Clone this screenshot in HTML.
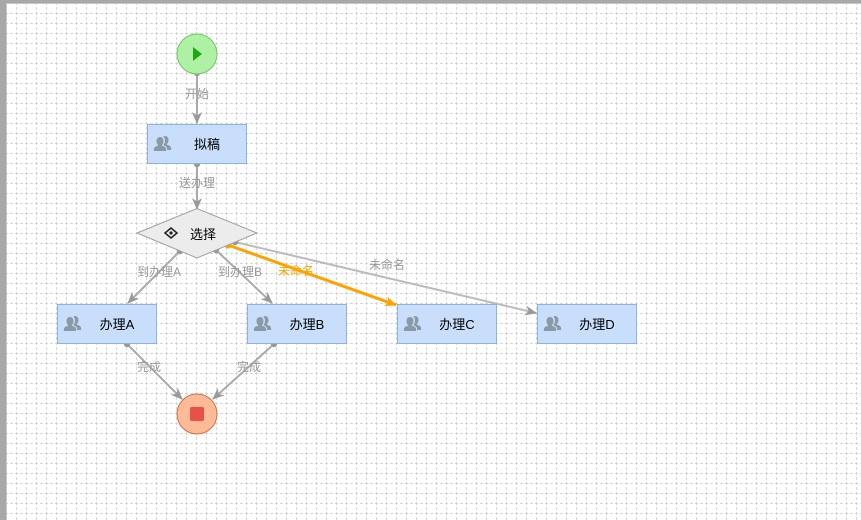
<!DOCTYPE html>
<html><head><meta charset="utf-8"><style>
html,body{margin:0;padding:0;width:861px;height:520px;overflow:hidden;background:#fff}
svg{display:block}
text{font-family:"Liberation Sans","Noto Sans CJK SC",sans-serif}
</style></head><body>
<svg width="861" height="520" viewBox="0 0 861 520" xmlns="http://www.w3.org/2000/svg">
<defs>
<pattern id="g" x="6" y="3" width="10" height="10" patternUnits="userSpaceOnUse">
<line x1="0.5" y1="0" x2="0.5" y2="10" stroke="#d6d6d6" stroke-width="1" stroke-dasharray="3,2" stroke-dashoffset="1"/>
<line x1="0" y1="0.5" x2="10" y2="0.5" stroke="#d6d6d6" stroke-width="1" stroke-dasharray="3,2" stroke-dashoffset="1"/>
</pattern>
<marker id="ag" viewBox="0 0 12 10" refX="11" refY="5" markerWidth="12" markerHeight="10" orient="auto" markerUnits="userSpaceOnUse">
<path d="M0,0 L12,5 L0,10 L3.5,5 z" fill="#999"/>
</marker>
<marker id="ao" viewBox="0 0 12 10" refX="11" refY="5" markerWidth="13" markerHeight="10" orient="auto" markerUnits="userSpaceOnUse">
<path d="M0,0 L12,5 L0,10 L3.5,5 z" fill="#ffa200"/>
</marker>
<g id="p">
<path d="M4,0 c2.5,0 3.5,2 3.5,4.2 c0,2 -1,3.3 -1.6,3.8 l0,0.8 c2.5,0.6 4.2,1.6 4.2,3.6 l0,1.6 l-12.2,0 l0,-1.6 c0,-2 1.7,-3 4.2,-3.6 l0,-0.8 c-0.6,-0.5 -1.6,-1.8 -1.6,-3.8 c0,-2.2 1,-4.2 3.5,-4.2z" fill="#8a9aa4"/>
<path d="M9,-1 c2.5,0 3.5,2 3.5,4.2 c0,2 -1,3.3 -1.6,3.8 l0,0.8 c2.5,0.6 4.2,1.6 4.2,3.6 l0,1.6 l-4,0 l0,-1 c0,-1.6 -1.2,-3 -3.5,-3.6 l0,-0.8 c0.6,-0.5 1.4,-1.8 1.4,-3.8 c0,-2 -0.6,-3.4 -1.8,-4.2z" fill="#8a9aa4"/>
</g>
</defs>
<rect x="0" y="0" width="861" height="520" fill="#fff"/>
<rect x="7" y="4" width="854" height="516" fill="url(#g)"/>
<rect x="0" y="0" width="861" height="4" fill="#a8a8a8"/>
<rect x="0" y="0" width="7" height="520" fill="#a8a8a8"/>
<rect x="6" y="3" width="855" height="1" fill="#c8c8c8"/>
<rect x="6" y="3" width="1" height="517" fill="#c8c8c8"/>

<!-- connectors -->
<g stroke="#aaa" stroke-width="2" fill="none">
<line x1="197" y1="73" x2="197" y2="123" marker-end="url(#ag)"/>
<line x1="197" y1="164" x2="197" y2="209" marker-end="url(#ag)"/>
<line x1="180" y1="251" x2="128" y2="303" marker-end="url(#ag)"/>
<line x1="216" y1="250" x2="272" y2="303" marker-end="url(#ag)"/>
<line x1="235" y1="242" x2="536" y2="313" stroke="#bbb" marker-end="url(#ag)"/>
<line x1="127" y1="344" x2="182" y2="399" marker-end="url(#ag)"/>
<line x1="274" y1="344" x2="213" y2="399" marker-end="url(#ag)"/>
</g>
<line x1="228" y1="245" x2="396" y2="305" stroke="#ffa200" stroke-width="3" marker-end="url(#ao)"/>
<g fill="#999">
<circle cx="197" cy="73" r="3.2"/>
<circle cx="197" cy="164" r="3.2"/>
<circle cx="180" cy="251" r="3.2"/>
<circle cx="216" cy="250" r="3.2"/>
<circle cx="235" cy="242" r="3.2"/>
<circle cx="127" cy="344" r="3.2"/>
<circle cx="274" cy="344" r="3.2"/>
</g>
<circle cx="228" cy="245" r="3.5" fill="#ffa200"/>

<!-- labels -->
<g font-size="12" fill="#999" text-anchor="middle">
<text x="197" y="98">开始</text>
<text x="197" y="187">送办理</text>
<text x="159" y="276">到办理A</text>
<text x="240" y="276">到办理B</text>
<text x="387" y="269">未命名</text>
<text x="149" y="371">完成</text>
<text x="249" y="371">完成</text>
</g>
<text x="296" y="275" font-size="12" fill="#ffa200" text-anchor="middle">未命名</text>

<!-- start -->
<circle cx="197" cy="54" r="20" fill="#aef0a4" stroke="#70c860" stroke-width="1"/>
<path d="M193,47 L202,54 L193,61 z" fill="#1daa10"/>

<!-- 拟稿 -->
<rect x="147.5" y="124.5" width="99" height="39" fill="#c8defa" stroke="#8cb2e6"/>
<use href="#p" x="156" y="137"/>
<text x="207" y="149" font-size="13" fill="#000" text-anchor="middle">拟稿</text>

<!-- diamond -->
<path d="M137,233 L197,208.5 L257,233 L197,258 z" fill="#ececec" stroke="#a0a0a0"/>
<g transform="translate(171,233)" fill="none" stroke="#222" stroke-width="1.5">
<path d="M-6,0 L0,-5 L6,0 L0,5 z"/>
<circle cx="0" cy="0" r="1.6" fill="#222" stroke="none"/>
</g>
<text x="203" y="239" font-size="13" fill="#000" text-anchor="middle">选择</text>

<!-- tasks -->
<rect x="57.5" y="304.5" width="99" height="39" fill="#c8defa" stroke="#8cb2e6"/>
<use href="#p" x="66" y="317"/>
<text x="117" y="329" font-size="13" fill="#000" text-anchor="middle">办理A</text>

<rect x="247.5" y="304.5" width="99" height="39" fill="#c8defa" stroke="#8cb2e6"/>
<use href="#p" x="256" y="317"/>
<text x="307" y="329" font-size="13" fill="#000" text-anchor="middle">办理B</text>

<rect x="397.5" y="304.5" width="99" height="39" fill="#c8defa" stroke="#8cb2e6"/>
<use href="#p" x="406" y="317"/>
<text x="457" y="329" font-size="13" fill="#000" text-anchor="middle">办理C</text>

<rect x="537.5" y="304.5" width="99" height="39" fill="#c8defa" stroke="#8cb2e6"/>
<use href="#p" x="546" y="317"/>
<text x="597" y="329" font-size="13" fill="#000" text-anchor="middle">办理D</text>

<!-- end -->
<circle cx="197" cy="414" r="20" fill="#ffba98" stroke="#d07048" stroke-width="1"/>
<rect x="190" y="407" width="14" height="14" rx="2" fill="#e8504a"/>
</svg>
</body></html>
